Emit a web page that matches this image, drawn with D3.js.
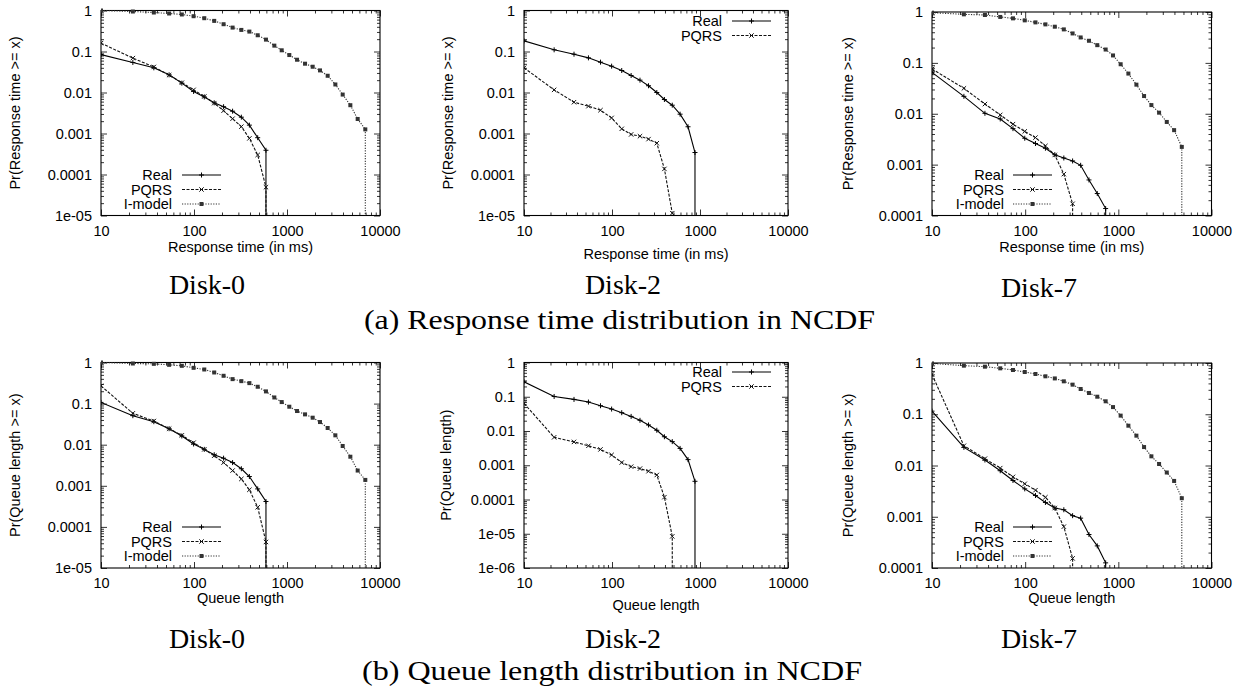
<!DOCTYPE html>
<html>
<head>
<meta charset="utf-8">
<script src="https://cdn.jsdelivr.net/npm/d3@7"></script>
<style>
  body { margin: 0; background: #fff; }
  svg text { fill: #000; }
</style>
</head>
<body>
<svg id="fig" width="1240" height="696"></svg>
<script>
// 共通のビン（x値）
const bins = [10, 22, 37, 54, 74, 99, 129, 165, 208, 260, 323, 394, 484, 594, 731, 877,
              1059, 1282, 1563, 1889, 2264, 2737, 3311, 3970, 4799, 5754, 6950];

const xTickValues = [10, 100, 1000, 10000];
const xTickLabels = ["10", "100", "1000", "10000"];
const yTicks4 = [1, 0.1, 0.01, 0.001, 0.0001];
const yLabels4 = ["1", "0.1", "0.01", "0.001", "0.0001"];
const yTicks5 = [1, 0.1, 0.01, 0.001, 0.0001, 0.00001];
const yLabels5 = ["1", "0.1", "0.01", "0.001", "0.0001", "1e-05"];
const yTicks6 = [1, 0.1, 0.01, 0.001, 0.0001, 0.00001, 0.000001];
const yLabels6 = ["1", "0.1", "0.01", "0.001", "0.0001", "1e-05", "1e-06"];

// (a) Response time
const rtD0Real   = [0.084, 0.054, 0.040, 0.027, 0.0169, 0.0106, 0.0078, 0.0056, 0.0045, 0.0035, 0.0025, 0.0016, 0.00079, 0.00039];
const rtD0Pqrs   = [0.16, 0.069, 0.042, 0.0266, 0.0173, 0.0116, 0.008, 0.0055, 0.0036, 0.0023, 0.00147, 0.00076, 0.0003, 0.000049];
const rtD0Imodel = [1.0, 0.945, 0.893, 0.845, 0.80, 0.726, 0.649, 0.558, 0.463, 0.383, 0.336, 0.306, 0.249, 0.195,
                    0.139, 0.107, 0.082, 0.063, 0.0504, 0.0425, 0.0346, 0.0256, 0.0157, 0.0089, 0.0049, 0.00226, 0.00126];
const rtD2Real   = [0.182, 0.11, 0.086, 0.070, 0.055, 0.0439, 0.0344, 0.026, 0.020, 0.0146, 0.010, 0.00675, 0.0049, 0.00296, 0.00146, 0.000344];
const rtD2Pqrs   = [0.040, 0.0116, 0.0058, 0.00464, 0.0037, 0.0024, 0.0013, 0.00095, 0.00086, 0.00073, 0.00058, 0.000137, 0.0000114];
const rtD7Real   = [0.065, 0.022, 0.0102, 0.0079, 0.0051, 0.0033, 0.0026, 0.0021, 0.00157, 0.00135, 0.00118, 0.00097, 0.0005, 0.00027, 0.000137];
const rtD7Pqrs   = [0.076, 0.0316, 0.0155, 0.0095, 0.00625, 0.0045, 0.0034, 0.00233, 0.00155, 0.00065, 0.00017];
const rtD7Imodel = [0.97, 0.90, 0.873, 0.80, 0.75, 0.685, 0.625, 0.571, 0.514, 0.455, 0.379, 0.316, 0.272, 0.223,
                    0.183, 0.14, 0.094, 0.0616, 0.0373, 0.0223, 0.0148, 0.0105, 0.0069, 0.00476, 0.00223];

// (b) Queue length
const qlD0Real   = [0.107, 0.0508, 0.0363, 0.0245, 0.0163, 0.0104, 0.0077, 0.0057, 0.0047, 0.00367, 0.0026, 0.00168, 0.00084, 0.000415];
const qlD0Pqrs   = [0.27, 0.058, 0.0377, 0.0245, 0.0169, 0.0112, 0.0077, 0.0054, 0.00367, 0.00235, 0.00147, 0.0008, 0.0003, 0.000043];
const qlD0Imodel = [1.0, 0.946, 0.928, 0.878, 0.83, 0.742, 0.676, 0.572, 0.475, 0.394, 0.352, 0.315, 0.257, 0.198,
                    0.141, 0.109, 0.084, 0.066, 0.0547, 0.0454, 0.0356, 0.0255, 0.0169, 0.0093, 0.0051, 0.00235, 0.00139];
const qlD2Real   = [0.273, 0.102, 0.0836, 0.070, 0.0547, 0.0437, 0.0342, 0.0267, 0.0205, 0.015, 0.0105, 0.0068, 0.0049, 0.0031, 0.00146, 0.00034];
const qlD2Pqrs   = [0.064, 0.00654, 0.0048, 0.0037, 0.0029, 0.002, 0.0012, 0.00091, 0.0008, 0.00067, 0.00052, 0.000117, 0.0000084];
const qlD7Real   = [0.115, 0.0226, 0.0128, 0.0079, 0.0051, 0.0035, 0.0026, 0.0019, 0.00148, 0.00137, 0.00105, 0.00094, 0.00045, 0.00027, 0.000126];
const qlD7Pqrs   = [0.6, 0.0243, 0.0136, 0.0089, 0.006, 0.0044, 0.0033, 0.0024, 0.00148, 0.00064, 0.000154];
const qlD7Imodel = [0.98, 0.887, 0.848, 0.787, 0.73, 0.667, 0.61, 0.55, 0.50, 0.439, 0.378, 0.311, 0.26, 0.22,
                    0.179, 0.138, 0.094, 0.0598, 0.0382, 0.0229, 0.0151, 0.0107, 0.0073, 0.005, 0.0023];

const seriesNames = ["Real", "PQRS", "I-model"];

// 線のスタイル（gnuplot風）
const styles = {
  "Real":    {dash: null,      color: "#000", marker: "plus"},
  "PQRS":    {dash: "3,1.5",   color: "#111", marker: "cross"},
  "I-model": {dash: "1.2,1.4", color: "#333", marker: "square"}
};

const SANS = "'Liberation Sans', Arial, Helvetica, sans-serif";
const SERIF = "'Liberation Serif', 'Times New Roman', serif";

const panels = [
  {left: 101, right: 380, top: 10.5, bottom: 215.5, yMin: 1e-5, yt: yTicks5, yl: yLabels5,
   series: [rtD0Real, rtD0Pqrs, rtD0Imodel], xTitle: "Response time (in ms)", xTitleY: 252,
   yTitle: "Pr(Response time >= x)", yTitleX: 15, legend: {rx: 172, y: 175, lx0: 182, lx1: 221},
   disk: "Disk-0", diskX: 207, diskY: 294},
  {left: 524, right: 788, top: 10.5, bottom: 215.5, yMin: 1e-5, yt: yTicks5, yl: yLabels5,
   series: [rtD2Real, rtD2Pqrs], xTitle: "Response time (in ms)", xTitleY: 259,
   yTitle: "Pr(Response time >= x)", yTitleX: 448, legend: {rx: 722, y: 21, lx0: 732, lx1: 771},
   disk: "Disk-2", diskX: 623, diskY: 294},
  {left: 932, right: 1211.5, top: 12, bottom: 215.5, yMin: 1e-4, yt: yTicks4, yl: yLabels4,
   series: [rtD7Real, rtD7Pqrs, rtD7Imodel], xTitle: "Response time (in ms)", xTitleY: 252,
   yTitle: "Pr(Response time >= x)", yTitleX: 848, legend: {rx: 1004, y: 175, lx0: 1013, lx1: 1052},
   disk: "Disk-7", diskX: 1039, diskY: 297},
  {left: 101, right: 380, top: 362.5, bottom: 568, yMin: 1e-5, yt: yTicks5, yl: yLabels5,
   series: [qlD0Real, qlD0Pqrs, qlD0Imodel], xTitle: "Queue length", xTitleY: 603,
   yTitle: "Pr(Queue length >= x)", yTitleX: 15, legend: {rx: 172, y: 527, lx0: 182, lx1: 221},
   disk: "Disk-0", diskX: 207, diskY: 648},
  {left: 524, right: 788, top: 362.5, bottom: 568, yMin: 1e-6, yt: yTicks6, yl: yLabels6,
   series: [qlD2Real, qlD2Pqrs], xTitle: "Queue length", xTitleY: 610,
   yTitle: "Pr(Queue length)", yTitleX: 446, legend: {rx: 722, y: 372, lx0: 732, lx1: 771},
   disk: "Disk-2", diskX: 623, diskY: 648},
  {left: 932, right: 1211.5, top: 363, bottom: 568, yMin: 1e-4, yt: yTicks4, yl: yLabels4,
   series: [qlD7Real, qlD7Pqrs, qlD7Imodel], xTitle: "Queue length", xTitleY: 603,
   yTitle: "Pr(Queue length >= x)", yTitleX: 848, legend: {rx: 1004, y: 527, lx0: 1013, lx1: 1052},
   disk: "Disk-7", diskX: 1039, diskY: 648}
];

const captions = [
  {text: "(a) Response time distribution in NCDF", x: 619.5, y: 329, len: 511},
  {text: "(b) Queue length distribution in NCDF", x: 612, y: 680, len: 500}
];

const svg = d3.select("#fig");

function drawMarker(sel, type, cx, cy, color) {
  if (type === "plus") {
    sel.append("path").attr("d", `M${cx-2.5},${cy}H${cx+2.5}M${cx},${cy-2.5}V${cy+2.5}`)
      .attr("stroke", color).attr("stroke-width", 1).attr("fill", "none");
  } else if (type === "cross") {
    sel.append("path").attr("d", `M${cx-2.2},${cy-2.2}L${cx+2.2},${cy+2.2}M${cx-2.2},${cy+2.2}L${cx+2.2},${cy-2.2}`)
      .attr("stroke", color).attr("stroke-width", 1).attr("fill", "none");
  } else {
    sel.append("rect").attr("x", cx-2).attr("y", cy-2).attr("width", 4).attr("height", 4)
      .attr("fill", color);
  }
}

// 対数軸の補助目盛り
function minorTicks(lo, hi) {
  const out = [];
  for (let e = Math.round(Math.log10(lo)); e < Math.round(Math.log10(hi)); e++) {
    for (let m = 2; m <= 9; m++) out.push(m * Math.pow(10, e));
  }
  return out;
}

panels.forEach((p, pi) => {
  const x = d3.scaleLog().domain([10, 10000]).range([p.left, p.right]);
  const y = d3.scaleLog().domain([p.yMin, 1]).range([p.bottom, p.top]);
  const g = svg.append("g");

  const clipId = "clip" + pi;
  svg.append("clipPath").attr("id", clipId).append("rect")
    .attr("x", p.left).attr("y", p.top - 3).attr("width", p.right - p.left).attr("height", p.bottom - p.top + 3);

  // 目盛り（内向き、四辺）
  const styleAxis = ax => ax.call(a => a.select(".domain").remove())
    .call(a => a.selectAll(".tick line").attr("stroke", "#000").attr("stroke-width", 0.8))
    .attr("font-family", SANS).attr("font-size", 14.5);

  g.append("g").attr("transform", `translate(0,${p.bottom})`)
    .call(d3.axisBottom(x).tickValues(xTickValues).tickFormat((d, i) => xTickLabels[i]).tickSize(-6).tickPadding(10))
    .call(styleAxis);
  g.append("g").attr("transform", `translate(0,${p.top})`)
    .call(d3.axisTop(x).tickValues(xTickValues).tickFormat("").tickSize(-6))
    .call(styleAxis);
  g.append("g").attr("transform", `translate(0,${p.bottom})`)
    .call(d3.axisBottom(x).tickValues(minorTicks(10, 10000)).tickFormat("").tickSize(-3))
    .call(styleAxis);
  g.append("g").attr("transform", `translate(0,${p.top})`)
    .call(d3.axisTop(x).tickValues(minorTicks(10, 10000)).tickFormat("").tickSize(-3))
    .call(styleAxis);

  g.append("g").attr("transform", `translate(${p.left},0)`)
    .call(d3.axisLeft(y).tickValues(p.yt).tickFormat((d, i) => p.yl[i]).tickSize(-6).tickPadding(9))
    .call(styleAxis);
  g.append("g").attr("transform", `translate(${p.right},0)`)
    .call(d3.axisRight(y).tickValues(p.yt).tickFormat("").tickSize(-6))
    .call(styleAxis);
  g.append("g").attr("transform", `translate(${p.left},0)`)
    .call(d3.axisLeft(y).tickValues(minorTicks(p.yMin, 1)).tickFormat("").tickSize(-3))
    .call(styleAxis);
  g.append("g").attr("transform", `translate(${p.right},0)`)
    .call(d3.axisRight(y).tickValues(minorTicks(p.yMin, 1)).tickFormat("").tickSize(-3))
    .call(styleAxis);

  // 枠
  g.append("rect").attr("x", p.left).attr("y", p.top)
    .attr("width", p.right - p.left).attr("height", p.bottom - p.top)
    .attr("fill", "none").attr("stroke", "#000").attr("stroke-width", 1.1);

  // 系列
  const line = d3.line().x(d => x(d[0])).y(d => y(d[1]));
  const plot = g.append("g").attr("clip-path", `url(#${clipId})`);
  p.series.forEach((vals, si) => {
    const st = styles[seriesNames[si]];
    const pts = vals.map((v, i) => [bins[i], v]);
    const last = pts[pts.length - 1];
    plot.append("path")
      .attr("d", line([...pts, [last[0], p.yMin]]))  // 最後は下端まで落とす
      .attr("fill", "none").attr("stroke", st.color).attr("stroke-width", 1.1)
      .attr("stroke-dasharray", st.dash);
    pts.forEach(d => drawMarker(plot, st.marker, x(d[0]), y(d[1]), st.color));
  });

  // 凡例
  p.series.forEach((vals, si) => {
    const name = seriesNames[si];
    const st = styles[name];
    const ly = p.legend.y + si * 14.5;
    g.append("text").attr("x", p.legend.rx).attr("y", ly).attr("dy", "0.35em")
      .attr("text-anchor", "end").attr("font-family", SANS).attr("font-size", 14.5).text(name);
    g.append("line").attr("x1", p.legend.lx0).attr("x2", p.legend.lx1).attr("y1", ly).attr("y2", ly)
      .attr("stroke", st.color).attr("stroke-width", 1.1).attr("stroke-dasharray", st.dash);
    drawMarker(g, st.marker, (p.legend.lx0 + p.legend.lx1) / 2, ly, st.color);
  });

  // 軸タイトル
  g.append("text").attr("x", (p.left + p.right) / 2).attr("y", p.xTitleY)
    .attr("text-anchor", "middle").attr("font-family", SANS).attr("font-size", 14.5).text(p.xTitle);
  g.append("text")
    .attr("transform", `translate(${p.yTitleX},${(p.top + p.bottom) / 2}) rotate(-90)`)
    .attr("dy", "0.35em").attr("text-anchor", "middle")
    .attr("font-family", SANS).attr("font-size", 14.5).text(p.yTitle);

  // ディスク名
  svg.append("text").attr("x", p.diskX).attr("y", p.diskY).attr("text-anchor", "middle")
    .attr("font-family", SERIF).attr("font-size", 28).text(p.disk);
});

captions.forEach(c => {
  svg.append("text").attr("x", c.x).attr("y", c.y).attr("text-anchor", "middle")
    .attr("font-family", SERIF).attr("font-size", 28)
    .attr("textLength", c.len).attr("lengthAdjust", "spacingAndGlyphs").text(c.text);
});
</script>
</body>
</html>
